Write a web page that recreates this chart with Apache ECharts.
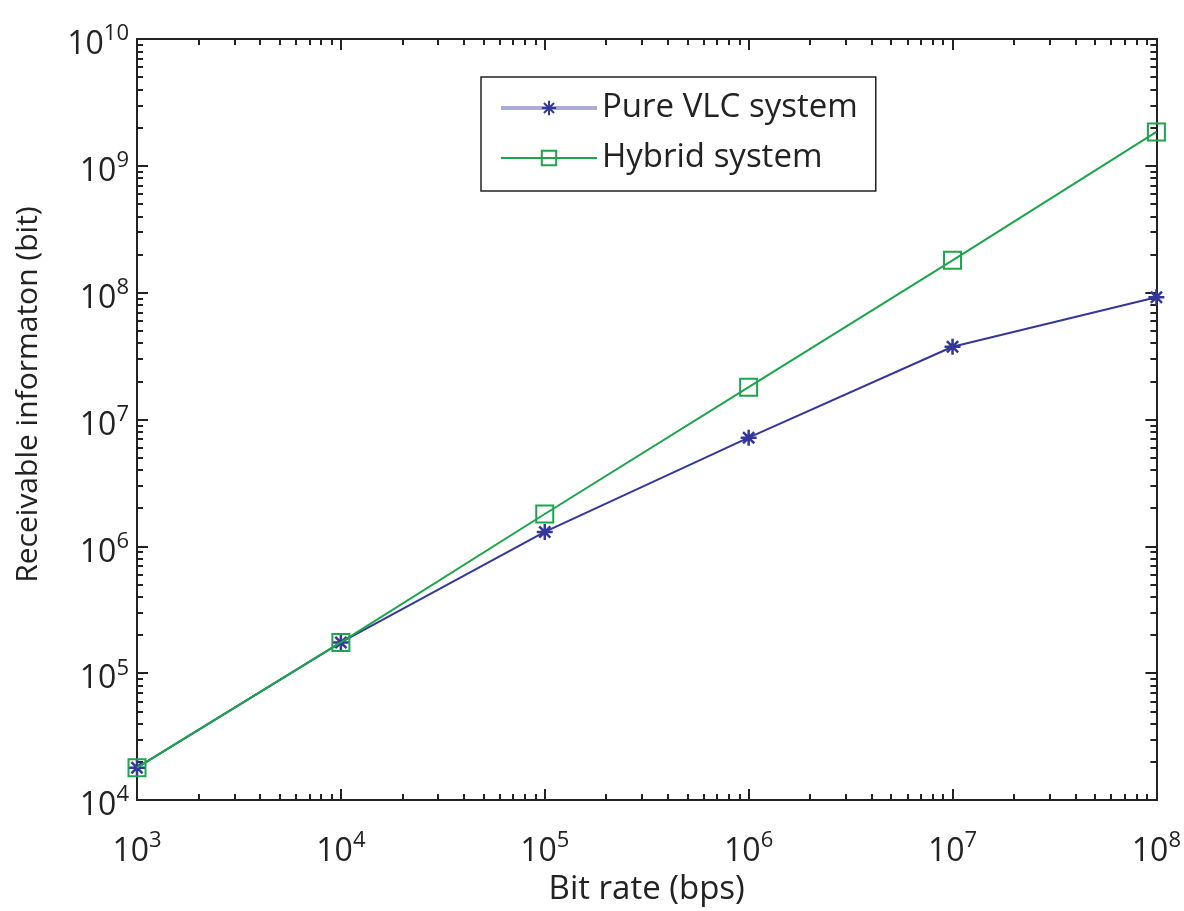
<!DOCTYPE html>
<html>
<head>
<meta charset="utf-8">
<script src="https://cdn.jsdelivr.net/npm/echarts@6/dist/echarts.min.js"></script>
<style>
  html, body { margin: 0; padding: 0; background: #fff; }
  #main { width: 1184px; height: 911px; }
</style>
</head>
<body>
<div id="main"></div>
<script>
// data
var bitRates = [1e3, 1e4, 1e5, 1e6, 1e7, 1e8];
var pureVlc = [1.8e4, 1.75e5, 1.3e6, 7.2e6, 3.75e7, 9.2e7];
var hybrid = [1.8e4, 1.75e5, 1.8e6, 1.8e7, 1.8e8, 1.85e9];

// decade exponents used for tick labels
var xExp = [3, 4, 5, 6, 7, 8];
var yExp = [4, 5, 6, 7, 8, 9, 10];

function decades(exps) {
  return exps.map(function (e) { return Math.pow(10, e); });
}
function minors(exps) {
  var out = [];
  for (var i = 0; i < exps.length - 1; i++) {
    for (var k = 2; k <= 9; k++) out.push(k * Math.pow(10, exps[i]));
  }
  return out;
}

var FONT = '"Open Sans", "Noto Sans", sans-serif';
var AXIS_COLOR = '#222';
var BLUE = '#34379a';
var GREEN = '#1ca54c';

var richLabel = {
  b: { fontSize: 32, fontFamily: FONT, color: '#222', lineHeight: 32, padding: [12, 0, 0, 0] },
  s: { fontSize: 22, fontFamily: FONT, color: '#222', lineHeight: 22, verticalAlign: 'top' }
};
function powFmt(v) {
  return '{b|10}{s|' + Math.round(Math.log10(v)) + '}';
}

function frameAxis(pos, exps, ticks, len, withLabel, extra) {
  var a = {
    type: 'log',
    logBase: 10,
    position: pos,
    min: Math.pow(10, exps[0]),
    max: Math.pow(10, exps[exps.length - 1]),
    axisLine: { show: true, onZero: false, lineStyle: { color: AXIS_COLOR, width: 2 } },
    axisTick: { show: true, inside: true, length: len, customValues: ticks,
      lineStyle: { color: AXIS_COLOR, width: 2 } },
    axisLabel: { show: false },
    splitLine: { show: false },
    minorTick: { show: false },
    minorSplitLine: { show: false }
  };
  if (withLabel) {
    a.axisLabel = {
      show: true,
      margin: pos === 'bottom' ? 30 : 8,
      customValues: decades(exps),
      formatter: powFmt,
      rich: richLabel
    };
  }
  return Object.assign(a, extra || {});
}

var myChart = echarts.init(document.getElementById('main'));
var option = {
  backgroundColor: '#fff',
  animation: false,
  grid: { left: 137, right: 27, top: 39, bottom: 105, containLabel: false },
  legend: {
    orient: 'vertical',
    left: 481,
    top: 77,
    padding: [14, 18, 16, 18],
    itemGap: 16,
    itemWidth: 96,
    itemHeight: 18,
    borderColor: '#222',
    borderWidth: 1.5,
    textStyle: { fontSize: 33, fontFamily: FONT, color: '#222', lineHeight: 34 },
    data: [
      { name: 'Pure VLC system', lineStyle: { color: '#a9acd6', width: 4 } },
      { name: 'Hybrid system' }
    ]
  },
  xAxis: [
    frameAxis('bottom', xExp, decades(xExp), 11, true, {
      name: 'Bit rate (bps)',
      nameLocation: 'middle',
      nameGap: 63,
      nameTextStyle: { fontSize: 33, fontFamily: FONT, color: '#222' }
    }),
    frameAxis('bottom', xExp, minors(xExp), 6, false),
    frameAxis('top', xExp, decades(xExp), 11, false),
    frameAxis('top', xExp, minors(xExp), 6, false)
  ],
  yAxis: [
    frameAxis('left', yExp, decades(yExp), 11, true, {
      name: 'Receivable informaton (bit)',
      nameLocation: 'middle',
      nameGap: 94,
      nameTextStyle: { fontSize: 30, fontFamily: FONT, color: '#222', padding: [0, 0, 0, 50] }
    }),
    frameAxis('left', yExp, minors(yExp), 6, false),
    frameAxis('right', yExp, decades(yExp), 11, false),
    frameAxis('right', yExp, minors(yExp), 6, false)
  ],
  series: [
    {
      name: 'Pure VLC system',
      type: 'line',
      xAxisIndex: 0,
      yAxisIndex: 0,
      data: bitRates.map(function (x, i) { return [x, pureVlc[i]]; }),
      symbol: 'path://M0,-10L0,10M-10,0L10,0M-7,-7L7,7M-7,7L7,-7',
      symbolSize: 16,
      z: 3,
      lineStyle: { color: BLUE, width: 2 },
      itemStyle: { color: 'none', borderColor: BLUE, borderWidth: 2.5 }
    },
    {
      name: 'Hybrid system',
      type: 'line',
      xAxisIndex: 0,
      yAxisIndex: 0,
      data: bitRates.map(function (x, i) { return [x, hybrid[i]]; }),
      symbol: 'rect',
      symbolSize: 17,
      z: 4,
      lineStyle: { color: GREEN, width: 2 },
      itemStyle: { color: 'rgba(255,255,255,0)', borderColor: GREEN, borderWidth: 2 }
    }
  ]
};
myChart.setOption(option);
</script>
</body>
</html>
